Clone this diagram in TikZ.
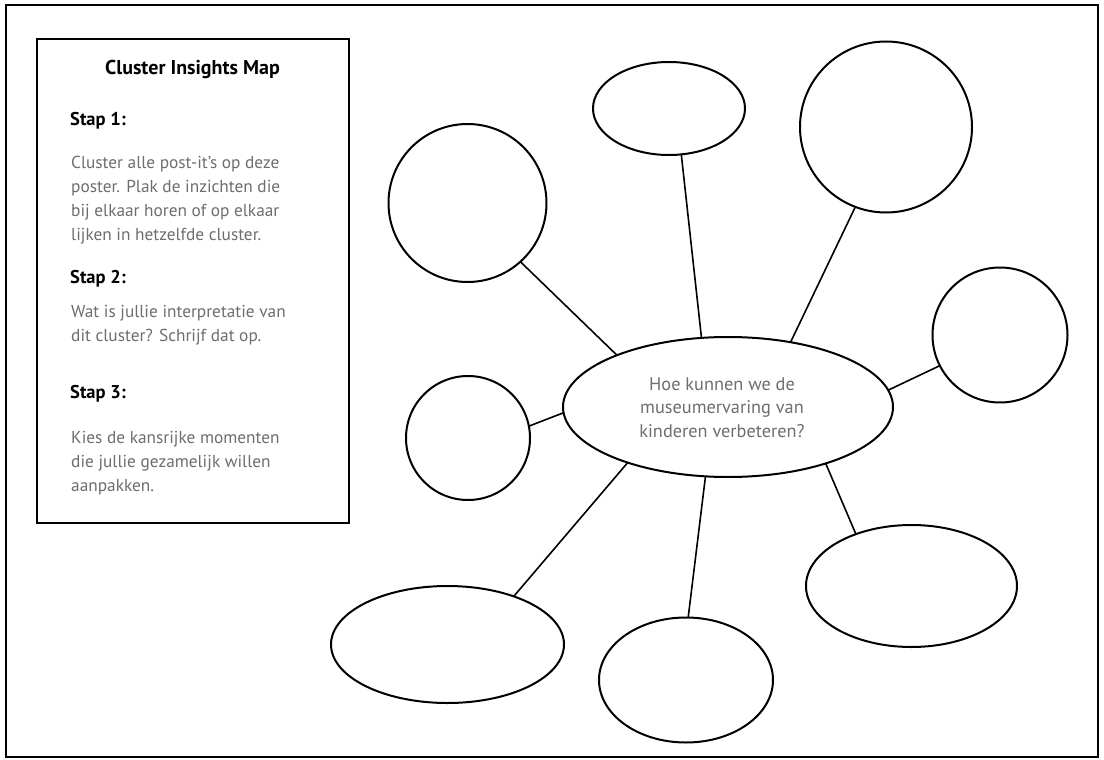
\documentclass[tikz,border=0pt]{standalone}
\usepackage{fontspec}
\setmainfont{PT Sans}
\usetikzlibrary{shapes.geometric}
\definecolor{bodygrey}{HTML}{6E6E6E}
\tikzset{
  bubble/.style={draw=black, line width=2pt, ellipse, inner sep=0pt, outer sep=0pt},
  link/.style={draw=black, line width=1.6pt},
  head/.style={anchor=base west, inner sep=0pt, font=\fontsize{18.5}{24}\selectfont\bfseries, text=black},
  body/.style={anchor=base west, inner sep=0pt, align=left, font=\fontsize{17.3}{24}\selectfont, text=bodygrey},
}
\begin{document}
\begin{tikzpicture}[x=1pt,y=-1pt]
\useasboundingbox (0,0) rectangle (1104,760);
\fill[white] (0,0) rectangle (1104,760);
\draw[line width=2.5pt] (6,5) rectangle (1098,757);
% instruction box
\draw[line width=1.5pt] (37,39) rectangle (349,523);
\node[anchor=base, inner sep=0pt, font=\fontsize{20}{22}\selectfont\bfseries] (title) at (192.5,75) {Cluster Insights Map};
\node[head] (s1) at (70,125) {Stap 1:};
% body nodes: base anchor is the baseline of the last line
\node[body] (b1) at (71,240) {Cluster alle post-it's op deze\\poster. Plak de inzichten die\\bij elkaar horen of op elkaar\\lijken in hetzelfde cluster.};
\node[head] (s2) at (70,283) {Stap 2:};
\node[body] (b2) at (71,341) {Wat is jullie interpretatie van\\dit cluster? Schrijf dat op.};
\node[head] (s3) at (70,398) {Stap 3:};
\node[body] (b3) at (71,491) {Kies de kansrijke momenten\\die jullie gezamelijk willen\\aanpakken.};
% central
\node[bubble, minimum width=330pt, minimum height=140pt] (c) at (728,407) {};
\node[anchor=base, align=center, inner sep=0pt, font=\fontsize{18.3}{23.5}\selectfont, text=bodygrey] (q) at (722,437) {Hoe kunnen we de\\museumervaring van\\kinderen verbeteren?};
% satellites
\node[bubble, minimum width=158pt, minimum height=158pt] (tl) at (467.5,203) {};
\node[bubble, minimum width=152pt, minimum height=93pt] (tc) at (669,108.5) {};
\node[bubble, minimum width=172pt, minimum height=171pt] (tr) at (886,127) {};
\node[bubble, minimum width=135pt, minimum height=135pt] (r) at (1000,335) {};
\node[bubble, minimum width=124pt, minimum height=124pt] (l) at (468,438) {};
\node[bubble, minimum width=233pt, minimum height=117pt] (bl) at (447.5,644.5) {};
\node[bubble, minimum width=174pt, minimum height=125pt] (bc) at (686,680) {};
\node[bubble, minimum width=211pt, minimum height=122pt] (br) at (911.5,586) {};
% connectors
\draw[link] (tl.312) -- (c.155.5);
\draw[link] (tc.285.6) -- (c.111.8);
\draw[link] (tr.249.6) -- (c.46.3);
\draw[link] (r.207) -- (c.6.5);
\draw[link] (l.11) -- (c.182.8);
\draw[link] (bl.36.5) -- (c.209.9);
\draw[link] (bc.88) -- (c.252.8);
\draw[link] (br.137.8) -- (c.330);
\end{tikzpicture}
\end{document}
